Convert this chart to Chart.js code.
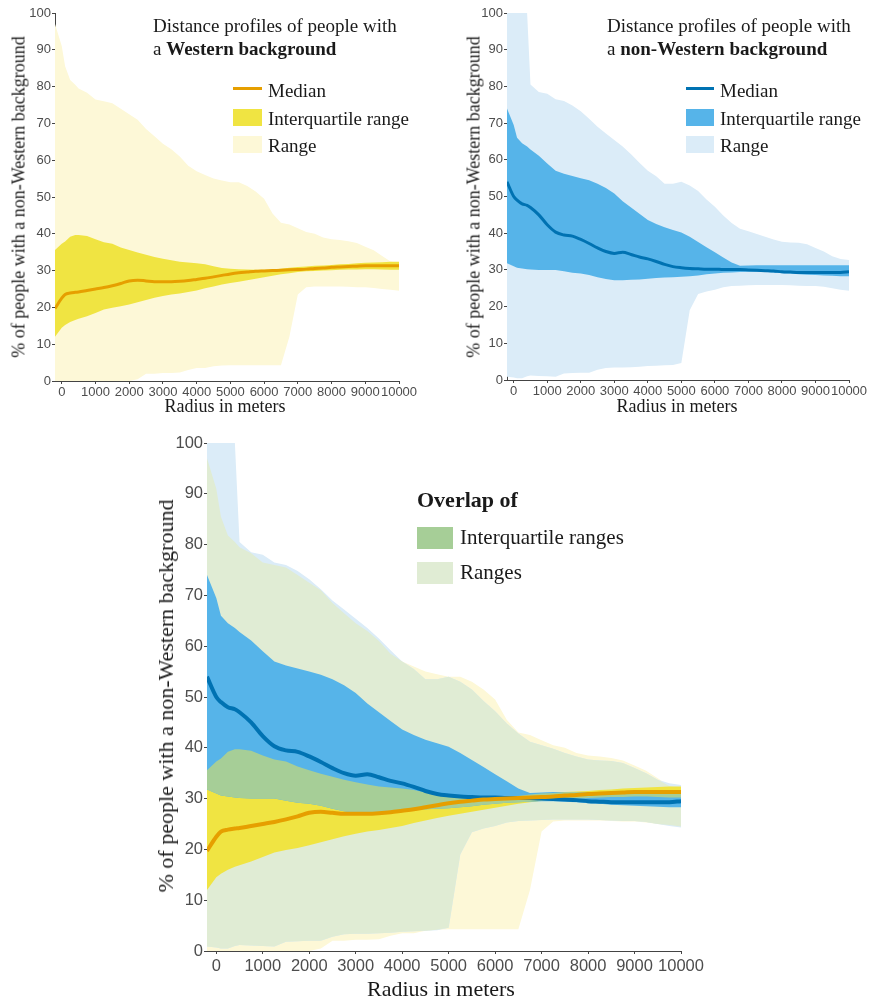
<!DOCTYPE html>
<html>
<head>
<meta charset="utf-8">
<script src="https://cdn.jsdelivr.net/npm/chart.js@4/dist/chart.umd.min.js"></script>
<style>
body { margin: 0; background: #fff; width: 872px; height: 1001px; position: relative; overflow: hidden;
       font-family: 'Liberation Serif', 'DejaVu Serif', serif; color: #1a1a1a; }
canvas { position: absolute; }
.t { position: absolute; white-space: nowrap; }
.ytitle { position: absolute; white-space: nowrap; transform: translate(-50%, -50%) rotate(-90deg); }
.xtitle { position: absolute; white-space: nowrap; transform: translate(-50%, -50%); }
.sw { position: absolute; }
</style>
</head>
<body>

<canvas id="westChart" width="430" height="415" style="left:0;top:0"></canvas>
<canvas id="nonWestChart" width="432" height="415" style="left:440px;top:0"></canvas>
<canvas id="overlapChart" width="572" height="571" style="left:150px;top:430px"></canvas>

<!-- top left texts -->
<div class="t" style="left:153px;top:14px;font-size:19px;line-height:23px">Distance profiles of people with<br>a <b>Western background</b></div>
<div class="sw" style="left:233px;top:87px;width:29px;height:3px;background:#e69f00"></div>
<div class="sw" style="left:233px;top:109px;width:29px;height:17px;background:#f0e442"></div>
<div class="sw" style="left:233px;top:136px;width:29px;height:17px;background:#fdf8d7"></div>
<div class="t" style="left:268px;top:81px;font-size:19px;line-height:19px">Median</div>
<div class="t" style="left:268px;top:109px;font-size:19px;line-height:19px">Interquartile range</div>
<div class="t" style="left:268px;top:136px;font-size:19px;line-height:19px">Range</div>
<div class="ytitle" style="left:19px;top:197px;font-size:18px">% of people with a non-Western background</div>
<div class="xtitle" style="left:225px;top:406px;font-size:18px">Radius in meters</div>

<!-- top right texts -->
<div class="t" style="left:607px;top:14px;font-size:19px;line-height:23px">Distance profiles of people with<br>a <b>non-Western background</b></div>
<div class="sw" style="left:686px;top:87px;width:28px;height:3px;background:#0072b2"></div>
<div class="sw" style="left:686px;top:109px;width:28px;height:17px;background:#56b4e9"></div>
<div class="sw" style="left:686px;top:136px;width:28px;height:17px;background:#dbecf8"></div>
<div class="t" style="left:720px;top:81px;font-size:19px;line-height:19px">Median</div>
<div class="t" style="left:720px;top:109px;font-size:19px;line-height:19px">Interquartile range</div>
<div class="t" style="left:720px;top:136px;font-size:19px;line-height:19px">Range</div>
<div class="ytitle" style="left:474px;top:197px;font-size:18px">% of people with a non-Western background</div>
<div class="xtitle" style="left:677px;top:406px;font-size:18px">Radius in meters</div>

<!-- bottom texts -->
<div class="t" style="left:417px;top:489px;font-size:22px;line-height:22px"><b>Overlap of</b></div>
<div class="sw" style="left:417px;top:527px;width:36px;height:22px;background:#a6ce97"></div>
<div class="sw" style="left:417px;top:562px;width:36px;height:22px;background:#e0ecd4"></div>
<div class="t" style="left:460px;top:527px;font-size:21px;line-height:21px">Interquartile ranges</div>
<div class="t" style="left:460px;top:562px;font-size:21px;line-height:21px">Ranges</div>
<div class="ytitle" style="left:166px;top:696px;font-size:22px">% of people with a non-Western background</div>
<div class="xtitle" style="left:441px;top:989px;font-size:22px">Radius in meters</div>

<script>
// radius in meters (first point sits on the y axis)
const radii = [-200, 0, 100, 250, 400, 500, 750, 1000, 1250, 1500, 1750, 2000, 2250, 2500, 2750, 3000,
  3250, 3500, 3750, 4000, 4250, 4500, 4750, 5000, 5250, 5500, 5750, 6000, 6250, 6500, 6750, 7000,
  7250, 7500, 7750, 8000, 8250, 8500, 8750, 9000, 9250, 9500, 9750, 10000];

// Western background
const westMax = [97, 91, 85.5, 81.8, 80.5, 79.5, 78.3, 76.5, 76, 75.5, 74, 72.5, 71, 68.5, 66.5, 64.5,
  63, 61, 58.5, 57, 56, 55, 54.5, 54, 54, 53, 51.5, 49.5, 45.5, 43, 42.5, 41.5,
  40.5, 40, 39, 38.5, 38.3, 38, 37.5, 36.5, 35.5, 34, 32.5, 32];
const westQ3 = [35.6, 37.3, 37.9, 39.2, 39.7, 39.7, 39.4, 38.5, 37.7, 37.3, 36.3, 35.6, 34.9, 34.3, 33.7, 33.2,
  32.8, 32.4, 32.2, 32, 31.7, 31.2, 30.7, 30.5, 30.4, 30.3, 30.2, 30.2, 30.3, 30.5, 30.8, 31,
  31.1, 31.3, 31.4, 31.5, 31.7, 31.8, 32, 32.1, 32.2, 32.3, 32.4, 32.4];
const westMedian = [19.7, 22.5, 23.5, 23.9, 24.1, 24.2, 24.6, 25, 25.4, 25.9, 26.5, 27.2, 27.4, 27.2, 27, 27,
  27, 27.1, 27.3, 27.6, 27.9, 28.3, 28.7, 29.1, 29.4, 29.6, 29.8, 29.9, 30, 30.1, 30.2, 30.3,
  30.4, 30.6, 30.7, 30.9, 31, 31.1, 31.2, 31.3, 31.3, 31.3, 31.3, 31.3];
const westQ1 = [12, 14.5, 15.2, 16, 16.6, 16.9, 17.6, 18.5, 19.4, 19.9, 20.3, 20.8, 21.4, 22, 22.6, 23.1,
  23.5, 23.8, 24.2, 24.6, 25.2, 25.7, 26.2, 26.6, 27, 27.4, 27.8, 28.2, 28.6, 29, 29.3, 29.6,
  29.8, 29.9, 30, 30.1, 30.2, 30.3, 30.3, 30.4, 30.4, 30.3, 30.2, 30.2];
const westMin = [0, 0, 0, 0, 0, 0, 0, 0, 0, 0, 0, 0, 0.5, 2, 2, 2.2,
  2.2, 2.3, 3, 3.5, 3.5, 4, 4.2, 4.3, 4.3, 4.3, 4.3, 4.3, 4.3, 4.3, 12, 23.5,
  25.5, 25.7, 25.7, 25.7, 25.7, 25.6, 25.5, 25.5, 25.3, 25, 24.8, 24.5];

// non-Western background
const nonWestMax = [100, 100, 100, 100, 100, 80.5, 78.5, 78, 76.5, 76, 74.8, 73.2, 71.2, 69, 67.2, 65.4,
  63.6, 61.5, 59.2, 57, 55.5, 53.5, 53.5, 54, 53, 51.5, 49.2, 47.2, 44.8, 42.8, 41.2, 40.5,
  39.8, 39, 38.3, 37.7, 37.5, 37.4, 37, 36, 35, 33.7, 33, 32.7];
const nonWestQ3 = [74, 69.5, 66, 64.5, 63.6, 62.8, 61.1, 59, 57, 56.2, 55.6, 55, 54.4, 53.5, 52.3, 50.8,
  48.7, 47, 45.3, 43.6, 42.5, 41.6, 40.9, 40.2, 39, 37.6, 36.2, 34.8, 33.4, 32, 31.1, 31.2,
  31.3, 31.3, 31.3, 31.3, 31.3, 31.3, 31.3, 31.3, 31.3, 31.3, 31.3, 31.3];
const nonWestMedian = [54, 50, 49, 48, 47.6, 47, 45, 42.3, 40.3, 39.5, 39.2, 38.3, 37.2, 36, 35, 34.5,
  34.8, 34.2, 33.5, 33, 32.3, 31.5, 30.9, 30.6, 30.4, 30.3, 30.2, 30.2, 30.1, 30.1, 30.1, 30,
  29.9, 29.8, 29.7, 29.5, 29.4, 29.3, 29.3, 29.3, 29.3, 29.3, 29.3, 29.5];
const nonWestQ1 = [31.8, 31, 30.6, 30.4, 30.2, 30.1, 30, 30, 30, 29.6, 29.2, 29, 28.6, 28, 27.5, 27.2,
  27.2, 27.3, 27.4, 27.6, 27.8, 27.9, 28, 28.1, 28.3, 28.5, 28.8, 29, 29.2, 29.3, 29.4, 29.5,
  29.5, 29.4, 29.3, 29.1, 29, 28.8, 28.7, 28.6, 28.5, 28.4, 28.3, 28.3];
const nonWestMin = [0.9, 0.7, 0.5, 0.5, 1, 1.2, 1.1, 1, 0.9, 1.8, 1.9, 2, 2, 2.8, 3.3, 3.4,
  3.4, 3.5, 3.6, 3.8, 3.9, 4, 4.1, 4.6, 19, 23.4, 24.1, 24.6, 25.3, 25.6, 25.7, 25.8,
  25.9, 25.9, 25.9, 25.9, 25.8, 25.7, 25.6, 25.6, 25.4, 25, 24.6, 24.3];

const xTicks = [0, 1000, 2000, 3000, 4000, 5000, 6000, 7000, 8000, 9000, 10000];
const yTicks = [0, 10, 20, 30, 40, 50, 60, 70, 80, 90, 100];

const colors = {
  westRange: '#fdf8d7', westIqr: '#f0e442', westMedian: '#e69f00',
  nonWestRange: '#dbecf8', nonWestIqr: '#56b4e9', nonWestMedian: '#0072b2',
  overlapRange: '#e0ecd4', overlapIqr: '#a6ce97'
};
const axisColor = '#444';
const tickColor = '#4d4d4d';
const sansFont = "'Liberation Sans', Arial, sans-serif";

// overlap of two bands, derived from the series above
const overlapRangeLow = radii.map((r, i) => Math.max(westMin[i], nonWestMin[i]));
const overlapRangeHigh = radii.map((r, i) => Math.max(overlapRangeLow[i], Math.min(westMax[i], nonWestMax[i])));
const overlapIqrLow = radii.map((r, i) => Math.max(westQ1[i], nonWestQ1[i]));
const overlapIqrHigh = radii.map((r, i) => Math.max(overlapIqrLow[i], Math.min(westQ3[i], nonWestQ3[i])));

function toPoints(values) {
  return radii.map((r, i) => ({ x: r, y: values[i] }));
}

function band(low, high, color, order) {
  return [
    { data: toPoints(low), borderWidth: 0, pointRadius: 0, fill: false, order: order },
    { data: toPoints(high), borderWidth: 0, pointRadius: 0, fill: '-1', backgroundColor: color, order: order }
  ];
}

function medianLine(values, color, width) {
  return { data: toPoints(values), borderColor: color, borderWidth: width, pointRadius: 0, fill: false,
           cubicInterpolationMode: 'monotone', order: 0 };
}

function buildChart(id, datasets, cfg) {
  return new Chart(document.getElementById(id), {
    type: 'line',
    data: { datasets: datasets },
    options: {
      responsive: false,
      animation: false,
      events: [],
      layout: { padding: { top: cfg.padTop, right: cfg.padRight, left: 0, bottom: 0 } },
      plugins: { legend: { display: false }, tooltip: { enabled: false }, filler: { propagate: false } },
      elements: { point: { radius: 0 }, line: { tension: 0 } },
      scales: {
        x: {
          type: 'linear', min: -200, max: 10000,
          afterBuildTicks: axis => { axis.ticks = xTicks.map(v => ({ value: v })); },
          afterFit: axis => { axis.height = cfg.xHeight; },
          ticks: { color: tickColor, font: { family: sansFont, size: cfg.tickSize }, padding: cfg.xPad,
                   maxRotation: 0, autoSkip: false, callback: v => String(v) },
          grid: { drawOnChartArea: false, tickLength: 3, color: axisColor },
          border: { color: axisColor, width: 1 }
        },
        y: {
          type: 'linear', min: 0, max: 100,
          afterBuildTicks: axis => { axis.ticks = yTicks.map(v => ({ value: v })); },
          afterFit: axis => { axis.width = cfg.yWidth; },
          ticks: { color: tickColor, font: { family: sansFont, size: cfg.tickSize }, padding: 1,
                   autoSkip: false, callback: v => String(v) },
          grid: { drawOnChartArea: false, tickLength: 3, color: axisColor },
          border: { color: axisColor, width: 1 }
        }
      }
    }
  });
}

buildChart('westChart', [
  medianLine(westMedian, colors.westMedian, 3),
  ...band(westQ1, westQ3, colors.westIqr, 2),
  ...band(westMin, westMax, colors.westRange, 3)
], { padTop: 13, padRight: 31, xHeight: 34, yWidth: 55, tickSize: 13, xPad: 1 });

buildChart('nonWestChart', [
  medianLine(nonWestMedian, colors.nonWestMedian, 3),
  ...band(nonWestQ1, nonWestQ3, colors.nonWestIqr, 2),
  ...band(nonWestMin, nonWestMax, colors.nonWestRange, 3)
], { padTop: 13, padRight: 23, xHeight: 35, yWidth: 67, tickSize: 13, xPad: 1 });

const westMedianBig = medianLine(westMedian, colors.westMedian, 4);
const nonWestMedianBig = medianLine(nonWestMedian, colors.nonWestMedian, 4);
nonWestMedianBig.order = 1;

buildChart('overlapChart', [
  westMedianBig,
  nonWestMedianBig,
  ...band(overlapIqrLow, overlapIqrHigh, colors.overlapIqr, 5),
  ...band(nonWestQ1, nonWestQ3, colors.nonWestIqr, 6),
  ...band(westQ1, westQ3, colors.westIqr, 7),
  ...band(overlapRangeLow, overlapRangeHigh, colors.overlapRange, 8),
  ...band(nonWestMin, nonWestMax, colors.nonWestRange, 9),
  ...band(westMin, westMax, colors.westRange, 10)
], { padTop: 13, padRight: 41, xHeight: 50, yWidth: 57, tickSize: 16.5, xPad: 3 });
</script>
</body>
</html>
